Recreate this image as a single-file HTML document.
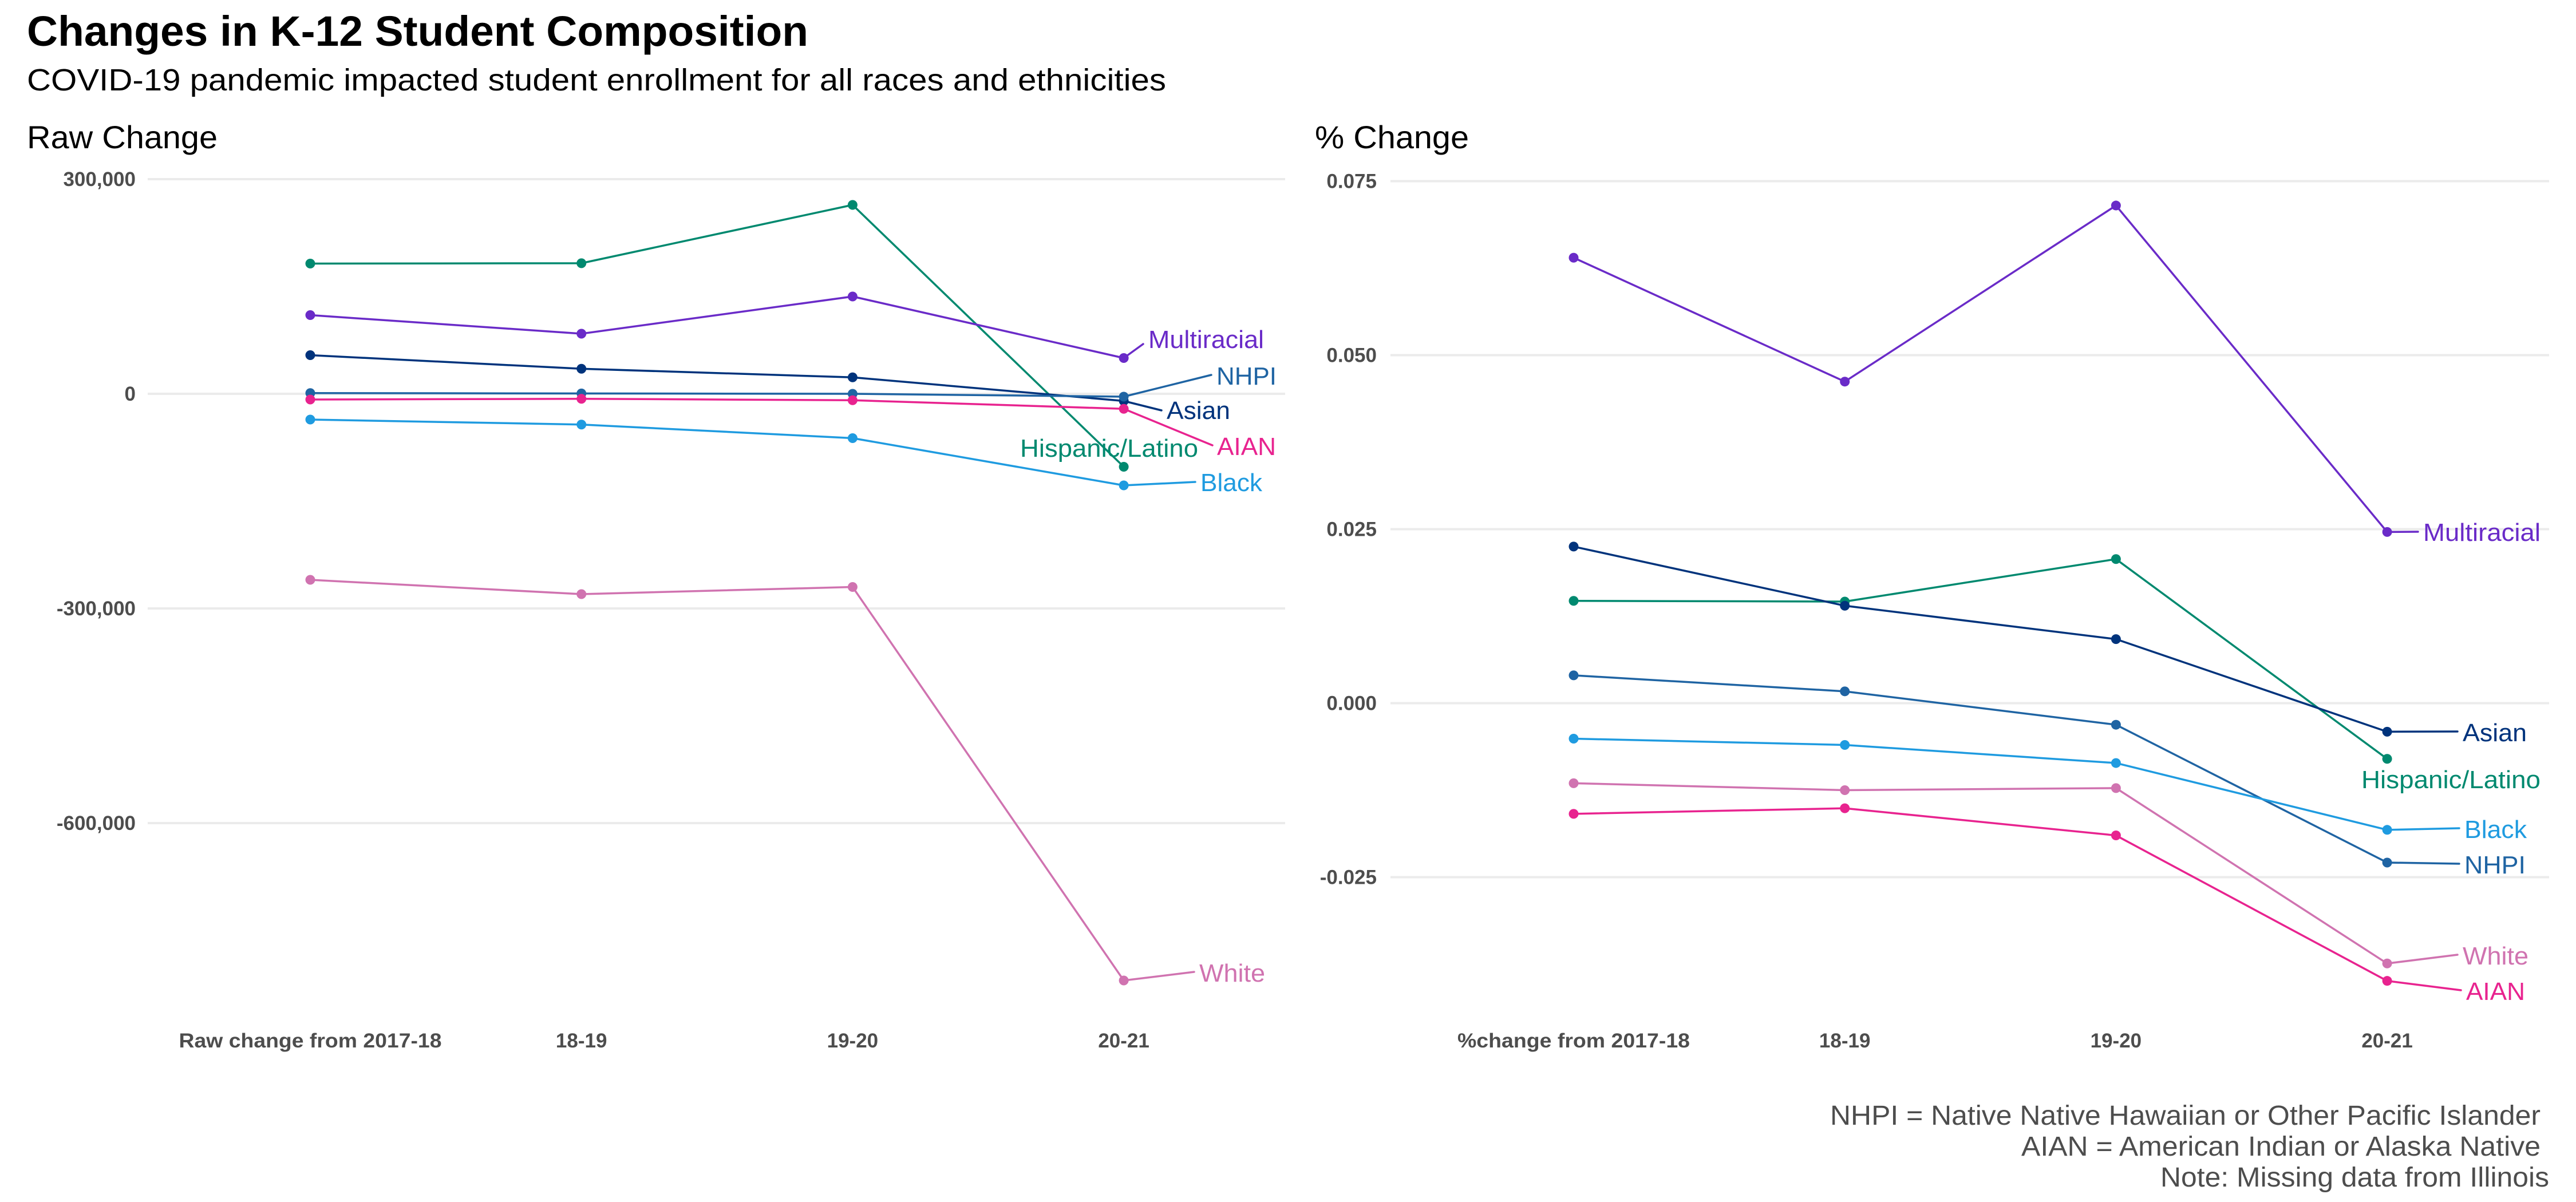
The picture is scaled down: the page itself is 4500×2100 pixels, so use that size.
<!DOCTYPE html>
<html><head><meta charset="utf-8"><style>
html,body{margin:0;padding:0;background:#fff;}
svg{display:block;font-family:"Liberation Sans",sans-serif;}
</style></head><body>
<svg id="chart" width="4500" height="2100" viewBox="0 0 4500 2100" xmlns="http://www.w3.org/2000/svg">
<text x="47" y="80" font-size="74" font-weight="bold" fill="#000" textLength="1365" lengthAdjust="spacingAndGlyphs">Changes in K-12 Student Composition</text>
<text x="47" y="158" font-size="54" fill="#000" textLength="1990" lengthAdjust="spacingAndGlyphs">COVID-19 pandemic impacted student enrollment for all races and ethnicities</text>
<text x="47" y="259" font-size="56" fill="#000" textLength="333" lengthAdjust="spacingAndGlyphs">Raw Change</text>
<text x="2297" y="259" font-size="56" fill="#000" textLength="269" lengthAdjust="spacingAndGlyphs">% Change</text>
<g fill="#4d4d4d" font-size="48" text-anchor="end">
<text x="4438" y="1965" textLength="1241" lengthAdjust="spacingAndGlyphs">NHPI = Native Native Hawaiian or Other Pacific Islander</text>
<text x="4438" y="2019" textLength="907" lengthAdjust="spacingAndGlyphs">AIAN = American Indian or Alaska Native</text>
<text x="4453" y="2073" textLength="679" lengthAdjust="spacingAndGlyphs">Note: Missing data from Illinois</text>
</g>
<g id="left"></g>
<g id="right"></g>
</svg>
<script>
const series = ["Hispanic/Latino","Multiracial","Asian","NHPI","AIAN","Black","White"];
const colors = ["#00896f","#6a2bc8","#00337c","#1f64a3","#e8238f","#1f9be0","#d073b0"];
const rawCategories = ["Raw change from 2017-18","18-19","19-20","20-21"];
const pctCategories = ["%change from 2017-18","18-19","19-20","20-21"];
const rawHispanic = [182000,182500,264000,-102000];
const rawMultiracial = [110000,84000,136000,50000];
const rawAsian = [54000,35000,23000,-10000];
const rawNHPI = [1000,500,0,-4000];
const rawAIAN = [-8000,-7000,-9000,-21000];
const rawBlack = [-36000,-43000,-62000,-128000];
const rawWhite = [-260000,-280000,-270000,-820000];
const rawTicks = [300000,0,-300000,-600000];
const rawTickLabels = ["300,000","0","-300,000","-600,000"];
const pctHispanic = [0.0147,0.0146,0.0207,-0.0080];
const pctMultiracial = [0.0640,0.0462,0.0715,0.0246];
const pctAsian = [0.0225,0.0140,0.0092,-0.0041];
const pctNHPI = [0.0040,0.0017,-0.0031,-0.0229];
const pctAIAN = [-0.0159,-0.0151,-0.0190,-0.0399];
const pctBlack = [-0.0051,-0.0060,-0.0086,-0.0182];
const pctWhite = [-0.0115,-0.0125,-0.0122,-0.0374];
const pctTicks = [0.075,0.05,0.025,0,-0.025];
const pctTickLabels = ["0.075","0.050","0.025","0.000","-0.025"];

const NS = "http://www.w3.org/2000/svg";
function mk(tag, attrs, parent){const e=document.createElementNS(NS,tag);for(const k in attrs)e.setAttribute(k,attrs[k]);parent.appendChild(e);return e;}

function panel(g, cfg){
  const xs = i => cfg.x0 + i*cfg.dx;
  const ys = v => cfg.y0 - v*cfg.ky;
  cfg.ticks.forEach((t,i)=>{
    const l = mk("line",{x1:cfg.gx0,x2:cfg.gx1,y1:ys(t),y2:ys(t),stroke:"#ebebeb","stroke-width":4},g);
    
    
    const tx = mk("text",{x:cfg.tickX,y:ys(t)+12,"text-anchor":"end","font-size":35,"font-weight":"bold",fill:"#4d4d4d"},g);
    tx.textContent = cfg.tickLabels[i];
    
    
  });
  cfg.cats.forEach((c,i)=>{
    const tx = mk("text",{x:xs(i),y:cfg.xLabelY,"text-anchor":"middle","font-size":35,"font-weight":"bold",fill:"#4d4d4d"},g);
    if(i===0) tx.setAttribute("textLength",cfg.firstLen), tx.setAttribute("lengthAdjust","spacingAndGlyphs");
    tx.textContent = c;
    
    
  });
  cfg.data.forEach((vals,s)=>{
    const col = colors[s];
    const pts = vals.map((v,i)=>xs(i)+","+ys(v)).join(" ");
    const pl = mk("polyline",{points:pts,fill:"none",stroke:col,"stroke-width":3.5,"stroke-linejoin":"round"},g);
    
    
    vals.forEach((v,i)=>{
      const c = mk("circle",{cx:xs(i),cy:ys(v),r:8.5,fill:col},g);
      
      
    });
    const lb = cfg.labels[s];
    const lx = xs(3), ly = ys(vals[3]);
    if(lb[3]){
      const seg = mk("line",{x1:lx,y1:ly,x2:lb[3][0],y2:lb[3][1],stroke:col,"stroke-width":3.5,"stroke-linecap":"round"},g);
      
      
    }
    const t = mk("text",{x:lb[0],y:lb[1]+15,"font-size":44,fill:col,"text-anchor":lb[2],textLength:lb[4],lengthAdjust:"spacingAndGlyphs"},g);
    t.textContent = series[s];
    
    
  });
}

panel(document.getElementById("left"),{
  x0:542,dx:473.7,y0:688,ky:375/300000,gx0:258,gx1:2245,tickX:237,xLabelY:1830,firstLen:459,
  ticks:rawTicks,tickLabels:rawTickLabels,cats:rawCategories,
  data:[rawHispanic,rawMultiracial,rawAsian,rawNHPI,rawAIAN,rawBlack,rawWhite],
  labels:[
    [2093,783,"end",null,311],
    [2006,593,"start",[1997,601],202],
    [2038,717,"start",[2029,717],111],
    [2125,657,"start",[2116,655],105],
    [2126,780,"start",[2118,778],103],
    [2097,843,"start",[2088,842],108],
    [2095,1700,"start",[2086,1698],115]
  ]
});
panel(document.getElementById("right"),{
  x0:2749,dx:473.7,y0:1228.5,ky:304/0.025,gx0:2429,gx1:4453,tickX:2405,xLabelY:1830,firstLen:406,
  ticks:pctTicks,tickLabels:pctTickLabels,cats:pctCategories,
  data:[pctHispanic,pctMultiracial,pctAsian,pctNHPI,pctAIAN,pctBlack,pctWhite],
  labels:[
    [4438,1362,"end",null,313],
    [4233,930,"start",[4224,929],205],
    [4302,1280,"start",[4293,1278],112],
    [4305,1511,"start",[4296,1509],107],
    [4308,1732,"start",[4299,1730],103],
    [4305,1449,"start",[4296,1447],109],
    [4302,1670,"start",[4293,1668],115]
  ]
});
</script>
</body></html>
